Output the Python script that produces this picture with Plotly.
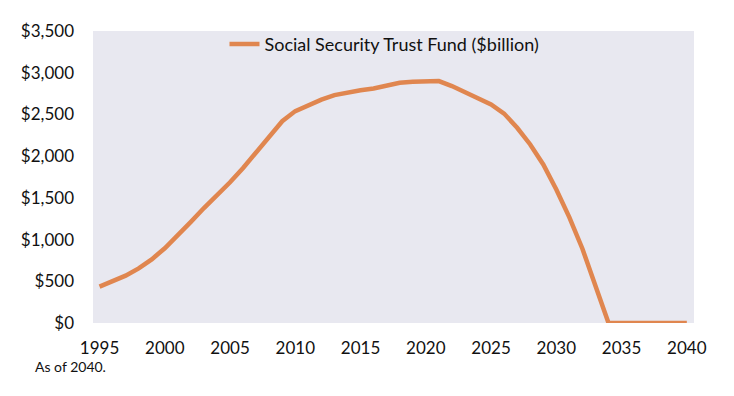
import plotly.graph_objects as go

years = list(range(1995, 2041))
fund = [436, 496, 567, 655, 763, 896, 1049, 1213, 1378, 1531,
        1687, 1859, 2048, 2238, 2419, 2540, 2609, 2678, 2732, 2764,
        2790, 2810, 2845, 2880, 2892, 2900, 2900, 2840, 2770, 2690,
        2620, 2510, 2340, 2140, 1900, 1600, 1266, 890, 445, 0,
        0, 0, 0, 0, 0, 0]
series_name = "Social Security Trust Fund ($billion)"
x_ticks = [1995, 2000, 2005, 2010, 2015, 2020, 2025, 2030, 2035, 2040]
y_ticks = [0, 500, 1000, 1500, 2000, 2500, 3000, 3500]
y_tick_labels = ["$0", "$500", "$1,000", "$1,500", "$2,000", "$2,500", "$3,000", "$3,500"]
note = "As of 2040."

FONT = "Lato, 'Open Sans', sans-serif"

fig = go.Figure()
fig.add_trace(go.Scatter(
    x=years, y=fund, mode="lines", name=series_name,
    line=dict(color="#E0864F", width=4.5),
))

# page body has an 8px default margin, so the figure is drawn at (8, 8)
fig.update_layout(
    width=726, height=388,
    margin=dict(l=85, r=40, t=21, b=73),
    paper_bgcolor="white",
    plot_bgcolor="#E8E8F0",
    font=dict(family=FONT, color="#111111"),
    showlegend=True,
    legend=dict(
        x=0.485, y=1.018, xanchor="center", yanchor="top",
        orientation="h", bgcolor="rgba(0,0,0,0)",
        font=dict(size=18, family=FONT, color="#111111"),
    ),
    xaxis=dict(
        range=[1994.5, 2040.55], tickvals=x_ticks,
        showgrid=False, zeroline=False, showline=False,
        ticks="", ticklabelstandoff=13,
        tickfont=dict(size=17, family=FONT, color="#111111"),
    ),
    yaxis=dict(
        range=[0, 3500], tickvals=y_ticks, ticktext=y_tick_labels,
        showgrid=False, zeroline=False, showline=False,
        ticks="", ticklabelstandoff=18,
        tickfont=dict(size=17, family=FONT, color="#111111"),
    ),
    annotations=[dict(
        text=note, xref="paper", yref="paper",
        x=-(93 - 33) / 601, y=-(367 - 323) / 294,
        xanchor="left", yanchor="middle", showarrow=False,
        font=dict(size=14, family=FONT, color="#111111"),
    )],
)

fig.write_html("out.html")
